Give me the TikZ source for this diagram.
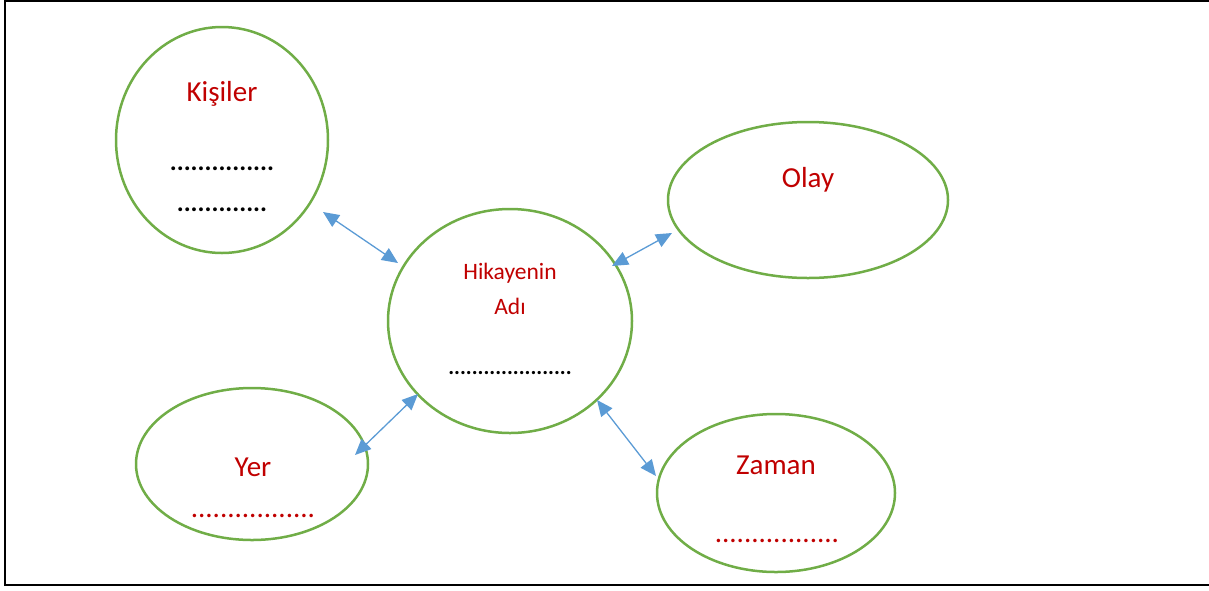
\documentclass[tikz,border=0pt]{standalone}
\usepackage{fontspec}
\setmainfont{Carlito}
\usetikzlibrary{arrows.meta}
\definecolor{wred}{HTML}{C00000}
\definecolor{wgreen}{HTML}{70AD47}
\definecolor{wblue}{HTML}{5B9BD5}
\tikzset{
  bubble/.style={draw=wgreen, line width=2.5pt},
  big/.style={font=\fontsize{29}{35}\selectfont, inner sep=0pt},
  dotsb/.style={font=\fontsize{26}{30}\selectfont\bfseries, inner sep=0pt},
  dotss/.style={font=\fontsize{22}{26}\selectfont\bfseries, inner sep=0pt},
  small/.style={font=\fontsize{23.5}{28}\selectfont, inner sep=0pt},
  link/.style={draw=wblue, line width=1.3pt, {Triangle[length=16pt,width=14pt]}-{Triangle[length=16pt,width=14pt]}}
}
\begin{document}
\begin{tikzpicture}[x=1pt,y=-1pt]
\useasboundingbox (0,0) rectangle (1209,590);
\clip (0,0) rectangle (1209,590);
\draw[line width=2pt] (5,1) rectangle (1260,585);
% ellipses
\draw[bubble] (222,140) ellipse [x radius=106, y radius=113];
\draw[bubble] (808,200) ellipse [x radius=140, y radius=78];
\draw[bubble] (510,321) ellipse [x radius=122, y radius=112];
\draw[bubble] (252,464) ellipse [x radius=116, y radius=76];
\draw[bubble] (776,493) ellipse [x radius=119, y radius=79];
% texts
\node[big, text=wred] (kis) at (222,94) {Kişiler};
\node[dotsb] (kisd1) at (222,169) {...............};
\node[dotsb] (kisd2) at (222,210) {.............};
\node[big, text=wred] (olay) at (808,180) {Olay};
\node[small, text=wred] (hik) at (510,273) {Hikayenin};
\node[small, text=wred] (adi) at (510,306) {Adı};
\node[dotss] (hikd) at (510,373) {.....................};
\node[big, text=wred] (yer) at (253,467) {Yer};
\node[big, text=wred] (yerd) at (253,516) {.................};
\node[big, text=wred] (zam) at (776,465) {Zaman};
\node[big, text=wred] (zamd) at (777,541) {.................};
% arrow ends
\coordinate (a1s) at (323,212); \coordinate (a1e) at (398,263);
\coordinate (a2s) at (612,266); \coordinate (a2e) at (672,233);
\coordinate (a3s) at (355,455); \coordinate (a3e) at (418,394);
\coordinate (a4s) at (597,400); \coordinate (a4e) at (656,476);
\draw[link] (a1s) -- (a1e);
\draw[link] (a2s) -- (a2e);
\draw[link] (a3s) -- (a3e);
\draw[link] (a4s) -- (a4e);
\end{tikzpicture}
\end{document}
